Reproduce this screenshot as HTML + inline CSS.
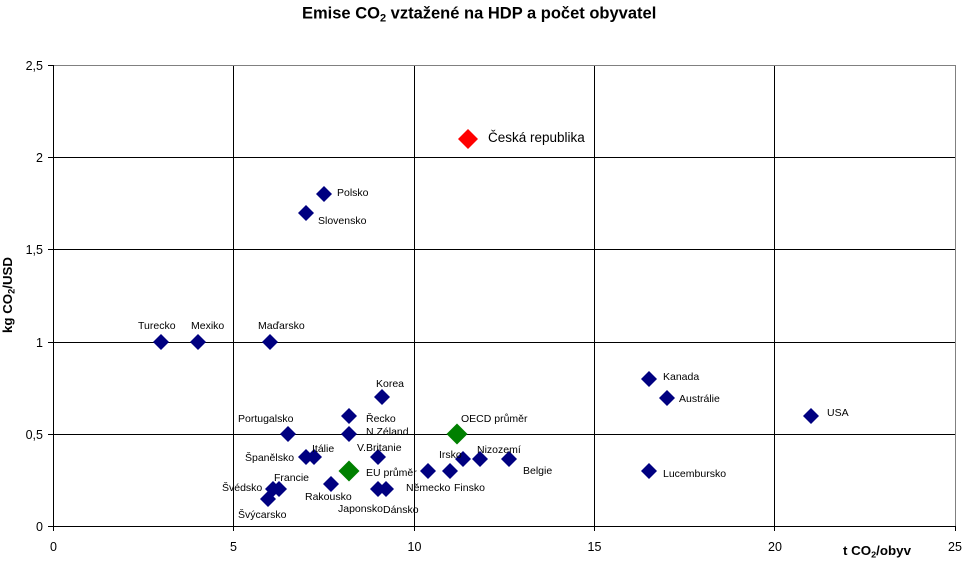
<!DOCTYPE html>
<html><head><meta charset="utf-8">
<style>
html,body{margin:0;padding:0;background:#fff;}
svg{display:block;}
text{font-family:"Liberation Sans",Arial,sans-serif;fill:#000;}
.lb{font-size:10.5px;}
.tk{font-size:12.5px;}
</style></head>
<body>
<svg width="964" height="564" viewBox="0 0 964 564" xmlns="http://www.w3.org/2000/svg">
<rect width="964" height="564" fill="#fff"/>
<!-- title -->
<text x="302" y="18.5" font-size="16.5" font-weight="bold">Emise CO<tspan font-size="11" dy="3">2</tspan><tspan dy="-3"> vztažené na HDP a počet obyvatel</tspan></text>

<!-- plot border (gray) -->
<line x1="53" y1="65.5" x2="955.5" y2="65.5" stroke="#808080" stroke-width="1"/>
<line x1="955.5" y1="65" x2="955.5" y2="526" stroke="#808080" stroke-width="1"/>

<!-- gridlines -->
<g stroke="#000" stroke-width="1">
<line x1="233.5" y1="66" x2="233.5" y2="526"/>
<line x1="414.5" y1="66" x2="414.5" y2="526"/>
<line x1="594.5" y1="66" x2="594.5" y2="526"/>
<line x1="774.5" y1="66" x2="774.5" y2="526"/>
<line x1="53" y1="157.5" x2="955" y2="157.5"/>
<line x1="53" y1="249.5" x2="955" y2="249.5"/>
<line x1="53" y1="342.5" x2="955" y2="342.5"/>
<line x1="53" y1="434.5" x2="955" y2="434.5"/>
<!-- axes -->
<line x1="53.5" y1="65" x2="53.5" y2="527"/>
<line x1="53" y1="526.5" x2="956" y2="526.5"/>
<!-- y ticks -->
<line x1="48" y1="65.5" x2="53" y2="65.5"/>
<line x1="48" y1="157.5" x2="53" y2="157.5"/>
<line x1="48" y1="249.5" x2="53" y2="249.5"/>
<line x1="48" y1="342.5" x2="53" y2="342.5"/>
<line x1="48" y1="434.5" x2="53" y2="434.5"/>
<line x1="48" y1="526.5" x2="53" y2="526.5"/>
<!-- x ticks -->
<line x1="53.5" y1="526" x2="53.5" y2="531"/>
<line x1="233.5" y1="526" x2="233.5" y2="531"/>
<line x1="414.5" y1="526" x2="414.5" y2="531"/>
<line x1="594.5" y1="526" x2="594.5" y2="531"/>
<line x1="774.5" y1="526" x2="774.5" y2="531"/>
<line x1="955.5" y1="526" x2="955.5" y2="531"/>
</g>

<!-- y tick labels -->
<g class="tk" text-anchor="end">
<text x="43" y="70">2,5</text>
<text x="43" y="162">2</text>
<text x="43" y="254">1,5</text>
<text x="43" y="347">1</text>
<text x="43" y="439">0,5</text>
<text x="43" y="531">0</text>
</g>
<!-- x tick labels -->
<g class="tk" text-anchor="middle">
<text x="53.5" y="551">0</text>
<text x="233.5" y="551">5</text>
<text x="414.5" y="551">10</text>
<text x="594.5" y="551">15</text>
<text x="775" y="551">20</text>
<text x="955" y="551">25</text>
</g>

<!-- axis titles -->
<text transform="translate(12,333) rotate(-90)" font-size="13" font-weight="bold" textLength="76" lengthAdjust="spacingAndGlyphs">kg CO<tspan font-size="9" dy="2.5">2</tspan><tspan dy="-2.5">/USD</tspan></text>
<text x="843" y="555" font-size="12.5" font-weight="bold" textLength="68" lengthAdjust="spacingAndGlyphs">t CO<tspan font-size="8.5" dy="2.5">2</tspan><tspan dy="-2.5">/obyv</tspan></text>

<!-- blue markers -->
<g fill="#000080">
<path d="M324,186 L332,194 L324,202 L316,194Z"/>
<path d="M306,205 L314,213 L306,221 L298,213Z"/>
<path d="M161,334 L169,342 L161,350 L153,342Z"/>
<path d="M198,334 L206,342 L198,350 L190,342Z"/>
<path d="M270,334 L278,342 L270,350 L262,342Z"/>
<path d="M382,389 L390,397 L382,405 L374,397Z"/>
<path d="M349,408 L357,416 L349,424 L341,416Z"/>
<path d="M349,426 L357,434 L349,442 L341,434Z"/>
<path d="M288,426 L296,434 L288,442 L280,434Z"/>
<path d="M306,449 L314,457 L306,465 L298,457Z"/>
<path d="M314,449 L322,457 L314,465 L306,457Z"/>
<path d="M378,449 L386,457 L378,465 L370,457Z"/>
<path d="M273,481 L281,489 L273,497 L265,489Z"/>
<path d="M279,481 L287,489 L279,497 L271,489Z"/>
<path d="M268,491 L276,499 L268,507 L260,499Z"/>
<path d="M331,476 L339,484 L331,492 L323,484Z"/>
<path d="M378,481 L386,489 L378,497 L370,489Z"/>
<path d="M386,481 L394,489 L386,497 L378,489Z"/>
<path d="M428,463 L436,471 L428,479 L420,471Z"/>
<path d="M450,463 L458,471 L450,479 L442,471Z"/>
<path d="M463,451 L471,459 L463,467 L455,459Z"/>
<path d="M480,451 L488,459 L480,467 L472,459Z"/>
<path d="M509,451 L517,459 L509,467 L501,459Z"/>
<path d="M649,371 L657,379 L649,387 L641,379Z"/>
<path d="M667,390 L675,398 L667,406 L659,398Z"/>
<path d="M811,408 L819,416 L811,424 L803,416Z"/>
<path d="M649,463 L657,471 L649,479 L641,471Z"/>
</g>
<!-- green markers -->
<g fill="#008000">
<path d="M349,460.5 L359.5,471 L349,481.5 L338.5,471Z"/>
<path d="M457,423.5 L467.5,434 L457,444.5 L446.5,434Z"/>
</g>
<!-- red marker -->
<path d="M468,129 L478,139 L468,149 L458,139Z" fill="#ff0000"/>

<!-- labels -->
<g class="lb">
<text x="337" y="196">Polsko</text>
<text x="318" y="224">Slovensko</text>
<text x="138" y="329">Turecko</text>
<text x="191" y="329">Mexiko</text>
<text x="258" y="329">Maďarsko</text>
<text x="376" y="387">Korea</text>
<text x="366" y="422">Řecko</text>
<text x="366" y="435">N.Zéland</text>
<text x="238" y="422">Portugalsko</text>
<text x="245" y="461">Španělsko</text>
<text x="312" y="452">Itálie</text>
<text x="357" y="451">V.Britanie</text>
<text x="366" y="476">EU průměr</text>
<text x="274" y="481">Francie</text>
<text x="222" y="491">Švédsko</text>
<text x="238" y="518">Švýcarsko</text>
<text x="305" y="500">Rakousko</text>
<text x="338" y="512">Japonsko</text>
<text x="383" y="513">Dánsko</text>
<text x="406" y="491">Německo</text>
<text x="454" y="491">Finsko</text>
<text x="461" y="422">OECD průměr</text>
<text x="439" y="458">Irsko</text>
<text x="477" y="453">Nizozemí</text>
<text x="523" y="474">Belgie</text>
<text x="663" y="380">Kanada</text>
<text x="679" y="402">Austrálie</text>
<text x="827" y="416">USA</text>
<text x="663" y="477">Lucembursko</text>
</g>
<text x="488" y="142" font-size="13.5">Česká republika</text>
</svg>
</body></html>
